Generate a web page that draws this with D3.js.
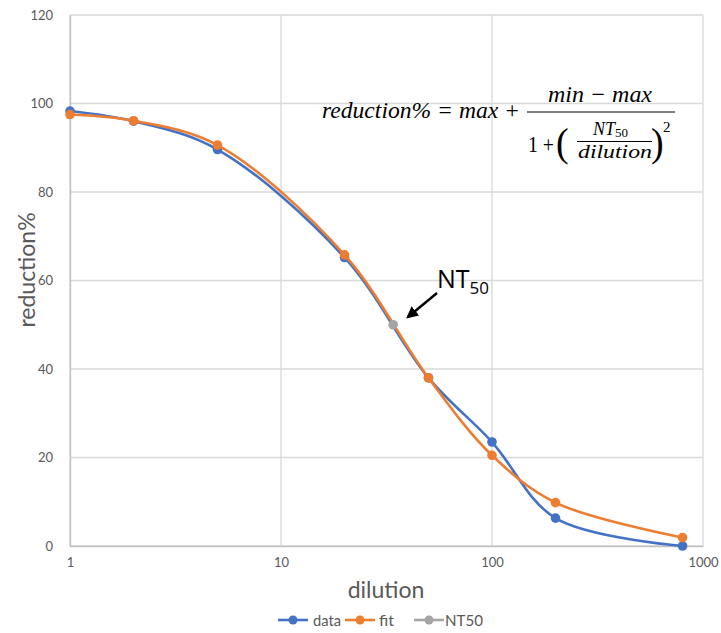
<!DOCTYPE html>
<html>
<head>
<meta charset="utf-8">
<script src="https://cdn.jsdelivr.net/npm/d3@7"></script>
<style>
  body { margin: 0; background: #fff; }
  .tick text { font-family: Lato, "Open Sans", sans-serif; font-size: 13px; fill: #595959; }
</style>
</head>
<body>
<div id="chart"></div>
<script>
// 稀释倍数
const dilution = [1, 2, 5, 20, 50, 100, 200, 800];
// 实测数据
const dataVals = [98.3, 96.0, 89.6, 65.2, 38.0, 23.5, 6.3, 0.0];
// 拟合值
const fitVals = [97.5, 96.1, 90.6, 65.8, 38.0, 20.5, 9.8, 1.9];
// NT50点
const nt50X = [34];
const nt50Y = [50];
const yTicks = [0, 20, 40, 60, 80, 100, 120];
const xTicks = [1, 10, 100, 1000];

const width = 721, height = 633;
const margin = { top: 15, right: 18, bottom: 87, left: 70 };

const svg = d3.select("#chart").append("svg")
  .attr("width", width).attr("height", height);

const x = d3.scaleLog().domain([1, 1000]).range([margin.left, width - margin.right]);
const y = d3.scaleLinear().domain([0, 120]).range([height - margin.bottom, margin.top]);

// 网格线
const grid = svg.append("g");
grid.selectAll(".hg").data(yTicks).join("line")
  .attr("x1", margin.left).attr("x2", width - margin.right)
  .attr("y1", d => y(d)).attr("y2", d => y(d))
  .attr("stroke", "#d9d9d9").attr("stroke-width", 1.3);
grid.selectAll(".vg").data(xTicks).join("line")
  .attr("x1", d => x(d)).attr("x2", d => x(d))
  .attr("y1", y(0)).attr("y2", y(120))
  .attr("stroke", "#d9d9d9").attr("stroke-width", 1.3);

// 坐标轴
const xAxis = svg.append("g")
  .attr("transform", `translate(0,${y(0)})`)
  .call(d3.axisBottom(x).tickValues(xTicks).tickFormat(d3.format("d")).tickSize(0).tickPadding(12));
xAxis.select(".domain").attr("stroke", "#bfbfbf").attr("stroke-width", 1.3);

const yAxis = svg.append("g")
  .attr("transform", `translate(${margin.left},0)`)
  .call(d3.axisLeft(y).tickValues(yTicks).tickSize(0).tickPadding(17));
yAxis.select(".domain").attr("stroke", "#bfbfbf").attr("stroke-width", 1.3);

// 轴标题
svg.append("text")
  .attr("x", 386).attr("y", 598)
  .attr("text-anchor", "middle")
  .attr("font-family", "Lato, 'Open Sans', sans-serif")
  .attr("font-size", "23px").attr("fill", "#595959")
  .text("dilution");
svg.append("text")
  .attr("transform", "translate(35,270) rotate(-90)")
  .attr("text-anchor", "middle")
  .attr("font-family", "Lato, 'Open Sans', sans-serif")
  .attr("font-size", "23px").attr("fill", "#595959")
  .text("reduction%");

// 曲线
const line = d3.line()
  .x(d => x(d[0])).y(d => y(d[1]))
  .curve(d3.curveCatmullRom.alpha(0.5));

const series = [
  { name: "data", color: "#4472c4", xs: dilution, ys: dataVals },
  { name: "fit", color: "#ed7d31", xs: dilution, ys: fitVals },
  { name: "NT50", color: "#a5a5a5", xs: nt50X, ys: nt50Y }
];

series.forEach(s => {
  const pts = s.xs.map((v, i) => [v, s.ys[i]]);
  if (pts.length > 1) {
    svg.append("path").datum(pts)
      .attr("d", line)
      .attr("fill", "none")
      .attr("stroke", s.color)
      .attr("stroke-width", 2.6);
  }
  svg.append("g").selectAll("circle").data(pts).join("circle")
    .attr("cx", d => x(d[0])).attr("cy", d => y(d[1]))
    .attr("r", 4.8).attr("fill", s.color);
});

// 图例
const legendItems = [
  { name: "data", color: "#4472c4", x: 278, tx: 313, w: 28 },
  { name: "fit", color: "#ed7d31", x: 345, tx: 379, w: 15 },
  { name: "NT50", color: "#a5a5a5", x: 414, tx: 445, w: 38 }
];
const lg = svg.append("g");
legendItems.forEach(l => {
  lg.append("line").attr("x1", l.x).attr("x2", l.x + 30)
    .attr("y1", 620).attr("y2", 620)
    .attr("stroke", l.color).attr("stroke-width", 2.6);
  lg.append("circle").attr("cx", l.x + 15).attr("cy", 620).attr("r", 4.5).attr("fill", l.color);
  lg.append("text").attr("x", l.tx).attr("y", 626)
    .attr("font-family", "Lato, 'Open Sans', sans-serif")
    .attr("font-size", "16px").attr("fill", "#595959")
    .attr("textLength", l.w).attr("lengthAdjust", "spacingAndGlyphs")
    .text(l.name);
});

// NT50 标注
svg.append("defs").append("marker")
  .attr("id", "arrow").attr("viewBox", "0 0 10 10")
  .attr("refX", 8).attr("refY", 5)
  .attr("markerWidth", 5).attr("markerHeight", 5)
  .attr("orient", "auto")
  .append("path").attr("d", "M0,0 L10,5 L0,10 z").attr("fill", "#000");
svg.append("line")
  .attr("x1", 437).attr("y1", 293).attr("x2", 408).attr("y2", 317)
  .attr("stroke", "#000").attr("stroke-width", 2.4)
  .attr("marker-end", "url(#arrow)");
const nt = svg.append("text")
  .attr("x", 437).attr("y", 288)
  .attr("font-family", "'Open Sans', Lato, sans-serif")
  .attr("font-size", "25px").attr("fill", "#000");
nt.append("tspan").text("NT");
nt.append("tspan").attr("font-size", "17px").attr("dy", 6).text("50");

// 公式
const serif = "'Liberation Serif', 'DejaVu Serif', serif";
const ftxt = (px, py, size, italic, str, len) => {
  const t = svg.append("text").attr("x", px).attr("y", py)
    .style("font-family", serif).style("font-size", size + "px")
    .style("font-style", italic ? "italic" : "normal").attr("fill", "#000")
    .text(str);
  if (len) t.attr("textLength", len).attr("lengthAdjust", "spacingAndGlyphs");
  return t;
};
ftxt(322, 118, 23, true, "reduction% = max +", 198);
ftxt(548, 102, 23, true, "min − max", 104);
svg.append("line").attr("x1", 527).attr("x2", 675).attr("y1", 112).attr("y2", 112)
  .attr("stroke", "#000").attr("stroke-width", 1.2);
ftxt(528, 152, 24, false, "1 +", 26);
ftxt(556, 156, 38, false, "(", null).attr("transform", "translate(556,156) scale(1,1.05) translate(-556,-156)");
ftxt(651, 156, 38, false, ")", null).attr("transform", "translate(651,156) scale(1,1.05) translate(-651,-156)");
const ntf = ftxt(593, 135, 18, true, "", null);
ntf.append("tspan").text("NT");
ntf.append("tspan").style("font-size", "13px").style("font-style", "normal").attr("dy", 2).text("50");
svg.append("line").attr("x1", 577).attr("x2", 652).attr("y1", 141.5).attr("y2", 141.5)
  .attr("stroke", "#000").attr("stroke-width", 1);
ftxt(578, 158, 18, true, "dilution", 74);
ftxt(663, 132, 15, false, "2", null);
</script>
</body>
</html>
